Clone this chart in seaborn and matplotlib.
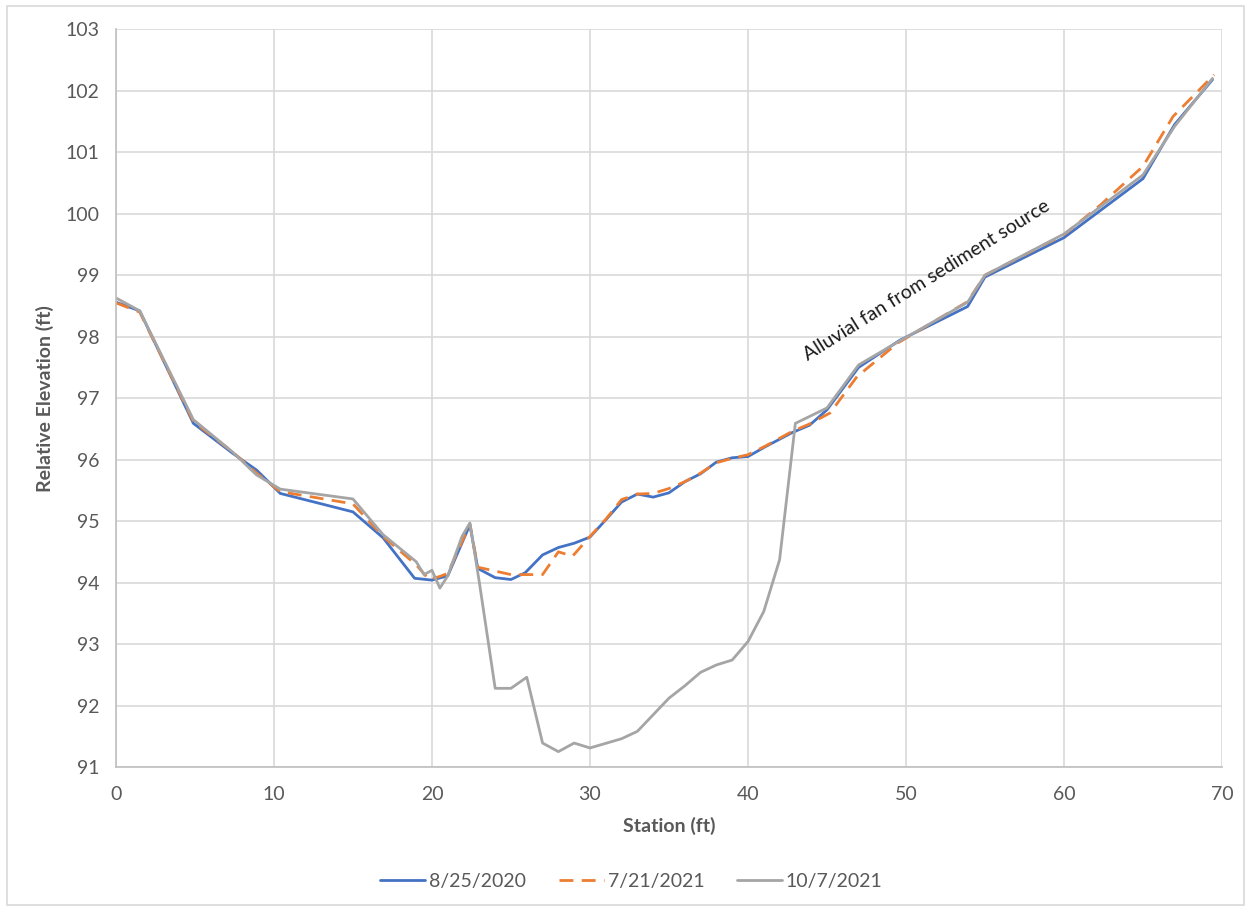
import matplotlib
matplotlib.use("Agg")
import matplotlib.pyplot as plt
from matplotlib.patches import Rectangle
import seaborn as sns
import pandas as pd

# Cross-section surveys: station (ft) vs relative elevation (ft)
survey_2020_x = [0, 1.5, 4.9, 7.4, 8.9, 10.4, 15.0, 16.9, 18.9, 20.0, 21.0, 22.4, 22.9, 24.0,
                 25.0, 25.9, 27.0, 28.0, 29.0, 30.0, 31.0, 32.0, 33.0, 34.0, 35.0, 36.0, 37.0,
                 38.0, 39.0, 40.0, 41.1, 42.8, 43.9, 45.0, 47.0, 49.6, 53.9, 55.0, 60.0, 65.0,
                 67.0, 69.4]
survey_2020_y = [98.56, 98.42, 96.59, 96.10, 95.83, 95.45, 95.15, 94.73, 94.07, 94.04, 94.11,
                 94.94, 94.23, 94.08, 94.05, 94.16, 94.45, 94.57, 94.64, 94.74, 95.02, 95.31,
                 95.44, 95.39, 95.46, 95.64, 95.77, 95.96, 96.03, 96.05, 96.21, 96.44, 96.56,
                 96.81, 97.50, 97.94, 98.49, 98.97, 99.61, 100.57, 101.45, 102.18]

survey_2021a_x = [0, 1.5, 4.9, 7.4, 8.9, 10.4, 15.0, 16.9, 19.0, 19.8, 20.5, 21.0, 22.4, 22.9,
                  25.0, 27.0, 28.0, 28.9, 30.0, 31.0, 32.0, 33.0, 34.0, 35.0, 36.0, 37.0, 38.0,
                  39.0, 40.0, 41.1, 42.8, 43.9, 45.2, 46.9, 49.5, 53.9, 55.0, 60.0, 62.3, 65.0,
                  66.9, 69.5]
survey_2021a_y = [98.55, 98.40, 96.62, 96.12, 95.78, 95.48, 95.28, 94.75, 94.29, 94.05, 94.10,
                  94.15, 94.95, 94.25, 94.13, 94.13, 94.50, 94.43, 94.75, 95.03, 95.35, 95.44,
                  95.45, 95.53, 95.64, 95.78, 95.95, 96.02, 96.08, 96.22, 96.46, 96.58, 96.76,
                  97.35, 97.90, 98.57, 99.00, 99.66, 100.14, 100.77, 101.58, 102.26]

survey_2021b_x = [0, 1.5, 4.9, 7.4, 8.9, 10.4, 15.0, 16.9, 19.0, 19.5, 20.0, 20.5, 21.0, 21.9,
                  22.4, 23.0, 24.0, 25.0, 26.0, 27.0, 28.0, 29.0, 30.0, 32.0, 33.0, 34.0, 35.0,
                  36.0, 37.0, 38.0, 39.0, 40.0, 41.0, 42.0, 43.0, 45.0, 47.0, 49.6, 53.9, 55.0,
                  60.0, 65.0, 67.0, 69.4]
survey_2021b_y = [98.63, 98.42, 96.65, 96.12, 95.75, 95.52, 95.36, 94.78, 94.34, 94.13, 94.20,
                  93.91, 94.11, 94.75, 94.97, 94.00, 92.28, 92.28, 92.46, 91.39, 91.25, 91.39,
                  91.31, 91.46, 91.58, 91.85, 92.12, 92.32, 92.54, 92.66, 92.74, 93.04, 93.53,
                  94.37, 96.59, 96.84, 97.54, 97.93, 98.56, 99.00, 99.67, 100.63, 101.42, 102.20]

survey_labels = ["8/25/2020", "7/21/2021", "10/7/2021"]
x_ticks = [0, 10, 20, 30, 40, 50, 60, 70]
y_ticks = [91, 92, 93, 94, 95, 96, 97, 98, 99, 100, 101, 102, 103]

frames = []
for label, xs, ys in zip(survey_labels,
                         [survey_2020_x, survey_2021a_x, survey_2021b_x],
                         [survey_2020_y, survey_2021a_y, survey_2021b_y]):
    frames.append(pd.DataFrame({"Station": xs, "Elevation": ys, "Survey": label}))
df = pd.concat(frames, ignore_index=True)

sns.set_theme(style="white")
plt.rcParams["font.family"] = ["Lato", "DejaVu Sans"]

text_gray = "#595959"
grid_gray = "#D9D9D9"

fig = plt.figure(figsize=(12.51, 9.09), dpi=100)
ax = fig.add_axes([0.0927, 0.1562, 0.8841, 0.8116])

palette = {"8/25/2020": "#4472C4", "7/21/2021": "#ED7D31", "10/7/2021": "#A5A5A5"}
dashes = {"8/25/2020": "", "7/21/2021": (5, 3), "10/7/2021": ""}
sns.lineplot(data=df, x="Station", y="Elevation", hue="Survey", style="Survey",
             palette=palette, dashes=dashes, sort=False, estimator=None,
             linewidth=2.0, ax=ax, legend=True)

ax.set_xlim(0, 70)
ax.set_ylim(91, 103)
ax.set_xticks(x_ticks)
ax.set_yticks(y_ticks)
ax.grid(True, color=grid_gray, linewidth=1.2)
for side in ["top", "right"]:
    ax.spines[side].set_visible(False)
for side in ["left", "bottom"]:
    ax.spines[side].set_color("#BFBFBF")
    ax.spines[side].set_linewidth(1.2)
ax.tick_params(axis="both", length=0, labelsize=14, labelcolor=text_gray, pad=12)
ax.tick_params(axis="x", pad=14)

ax.set_xlabel("Station (ft)", fontsize=14, fontweight="bold", color=text_gray, labelpad=10)
ax.set_ylabel("Relative Elevation (ft)", fontsize=14, fontweight="bold", color=text_gray,
              labelpad=8)

ax.text(51.3, 98.92, "Alluvial fan from sediment source", rotation=32, fontsize=14,
        color="#1a1a1a", ha="center", va="center", rotation_mode="anchor")

handles, labels = ax.get_legend_handles_labels()
ax.legend(handles, labels, loc="center", bbox_to_anchor=(0.5048, 0.03),
          bbox_transform=fig.transFigure, ncol=3, frameon=False, fontsize=14,
          labelcolor=text_gray, handlelength=2.3, handletextpad=0.2, columnspacing=1.7)

fig.patches.append(Rectangle((0.0056, 0.0044), 0.9888, 0.9890, transform=fig.transFigure,
                             fill=False, edgecolor="#D9D9D9", linewidth=1.2))

fig.savefig("out.png", dpi=100, facecolor="white")
